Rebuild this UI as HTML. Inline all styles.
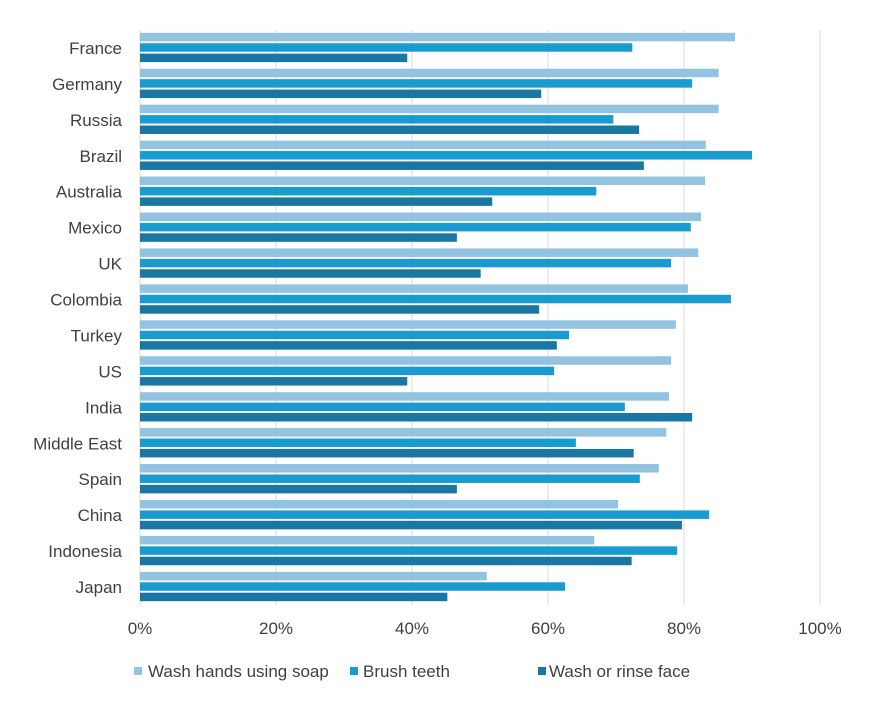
<!DOCTYPE html>
<html><head><meta charset="utf-8"><style>
body{margin:0;background:#fff;}
svg text{font-family:"Liberation Sans",sans-serif;fill:#404040;}
</style></head><body>
<svg id="chart" width="871" height="700">
<g id="grid"></g><g id="bars"></g><g id="labels"></g><g id="ticks"></g>
<g>
<g><rect x="134" y="667" width="8" height="8" fill="#92c3e0"/><text x="148" y="677" font-size="17">Wash hands using soap</text></g>
<g><rect x="350" y="667" width="8" height="8" fill="#1a9bd0"/><text x="363" y="677" font-size="17">Brush teeth</text></g>
<g><rect x="538" y="667" width="8" height="8" fill="#1a77a3"/><text x="549" y="677" font-size="17">Wash or rinse face</text></g>
</g>
</svg>
<script>
const categories=["France","Germany","Russia","Brazil","Australia","Mexico","UK","Colombia","Turkey","US","India","Middle East","Spain","China","Indonesia","Japan"];
const soap=[87.5,85.1,85.1,83.2,83.1,82.5,82.1,80.6,78.8,78.1,77.8,77.4,76.3,70.3,66.8,51];
const brush=[72.4,81.2,69.6,90,67.1,81,78.1,86.9,63.1,60.9,71.3,64.1,73.5,83.7,79,62.5];
const face=[39.3,59,73.4,74.1,51.8,46.6,50.1,58.7,61.3,39.3,81.2,72.6,46.6,79.7,72.3,45.2];
const tickValues=[0,20,40,60,80,100];
const tickLabels=["0%","20%","40%","60%","80%","100%"];
const NS="http://www.w3.org/2000/svg";
const x0=140,x1=820,yTop=30,yBot=605;
const band=(yBot-yTop)/categories.length;
function xs(v){return x0+v/100*(x1-x0);}
function yc(i){return yTop+band*(i+0.5);}
function mk(tag,attrs,parent){const e=document.createElementNS(NS,tag);for(const k in attrs)e.setAttribute(k,attrs[k]);parent.appendChild(e);return e;}
const grid=document.getElementById('grid'),bars=document.getElementById('bars'),labels=document.getElementById('labels'),ticks=document.getElementById('ticks');
tickValues.forEach((t,i)=>{
  const l=mk('line',{x1:xs(t),x2:xs(t),y1:yTop,y2:yBot,stroke:'#d9d9d9','stroke-width':1},grid);
  
  
  const tx=mk('text',{x:xs(t),y:634,'font-size':17,'text-anchor':'middle'},ticks);
  tx.textContent=tickLabels[i];
  
  
});
const series=[[soap,'#92c3e0','soap'],[brush,'#1a9bd0','brush'],[face,'#1a77a3','face']];
const bh=8.5,step=10.4;
categories.forEach((c,i)=>{
  const t=mk('text',{x:122,y:yc(i)+6,'font-size':17,'text-anchor':'end'},labels);
  t.textContent=c;
  
  
  series.forEach((s,j)=>{
    const cy=yc(i)+(j-1)*step-0.5;
    const r=mk('rect',{x:x0,y:cy-bh/2,width:xs(s[0][i])-x0,height:bh,fill:s[1]},bars);
    
    
  });
});
</script>
</body></html>
